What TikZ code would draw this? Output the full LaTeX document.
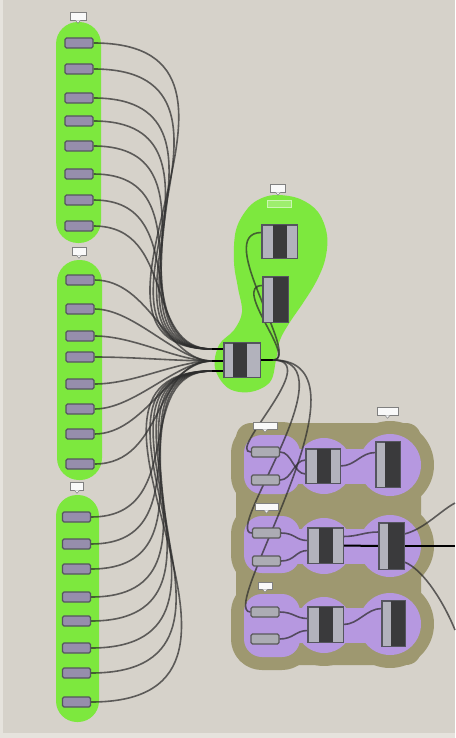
\documentclass[tikz,border=0pt]{standalone}
\usetikzlibrary{calc}
\definecolor{bg}{RGB}{214,210,202}
\definecolor{bglight}{RGB}{230,227,221}
\definecolor{grn}{RGB}{125,232,62}
\definecolor{olv}{RGB}{158,152,112}
\definecolor{prp}{RGB}{182,152,224}
\definecolor{itemfill}{RGB}{150,142,172}
\definecolor{itemdraw}{RGB}{85,85,95}
\definecolor{pfill}{RGB}{172,172,180}
\definecolor{lstrip}{RGB}{178,178,188}
\definecolor{dstrip}{RGB}{58,58,60}
\definecolor{wirec}{RGB}{45,45,45}
\pgfdeclarelayer{bgl}
\pgfdeclarelayer{wl}
\pgfsetlayers{bgl,wl,main}
\newcommand\compstrips[3]{%
  \fill[dstrip] ([xshift=#2pt]#1.north west) rectangle ([xshift=#2pt+#3pt]#1.south west);
  \draw[itemdraw,line width=0.8pt] (#1.north west) rectangle (#1.south east);
}
\newcommand\tagptr[1]{%
  \filldraw[fill=white!95!gray,draw=gray,line width=0.5pt] ([xshift=-2.5pt]#1.south) -- ([yshift=-3pt]#1.south) -- ([xshift=2.5pt]#1.south);
}
\begin{document}
\begin{tikzpicture}[x=1pt,y=-1pt,
  item/.style={rectangle,rounded corners=1.5pt,fill=itemfill,draw=itemdraw,line width=1.1pt,minimum width=28pt,minimum height=10pt,inner sep=0pt},
  pitem/.style={item,fill=pfill,draw=gray!70!black},
  compbox/.style={rectangle,fill=lstrip,draw=itemdraw,line width=0.8pt,inner sep=0pt},
  wire/.style={draw=wirec,draw opacity=0.72,line width=1.6pt},
  stub/.style={draw=black,line width=2.4pt},
  tagbox/.style={rectangle,fill=white!95!gray,draw=gray,line width=0.6pt,minimum width=16pt,minimum height=8pt,inner sep=0pt},
  olvshape/.style={fill=olv,draw=olv,line width=26pt,line join=round},
]
\useasboundingbox (0,0) rectangle (455,738);

% ---------- background and groups ----------
\begin{pgfonlayer}{bgl}
\fill[bglight] (0,0) rectangle (455,738);
\fill[bg] (3,0) rectangle (455,733);

% olive group
\fill[olv,rounded corners=15pt] (236,423) rectangle (421,665);
\foreach \ya/\yb/\cy/\cyb in {435/494/466/465, 516/573/546/546, 594/657/625/624}{
  \path[olvshape,rounded corners=18pt] (244,\ya) rectangle (300,\yb);
  \path[olvshape] (324,\cy) circle (28);
  \path[olvshape] (390,\cyb) circle (31);
  \path[olvshape] (295,\cy-17) rectangle (390,\cy+18);
}
% purple groups
\foreach \ya/\yb/\cy/\cyb in {435/494/466/465, 516/573/546/546, 594/657/625/624}{
  \fill[prp,rounded corners=18pt] (244,\ya) rectangle (300,\yb);
  \fill[prp] (324,\cy) circle (28);
  \fill[prp] (390,\cyb) circle (31);
  \fill[prp] (290,\cy-17) rectangle (390,\cy+18);
}

% green groups
\fill[grn,rounded corners=22pt] (56,22) rectangle (101,243);
\fill[grn,rounded corners=22pt] (57,260) rectangle (102,480);
\fill[grn,rounded corners=21pt] (56,495) rectangle (99,722);
\fill[grn] plot[smooth cycle,tension=0.6] coordinates {
  (278,195) (300,199) (318,212) (327,235) (325,260) (316,282) (303,303)
  (290,322) (280,340) (276,360) (270,382) (250,392) (228,388) (215,368)
  (219,345) (234,330) (242,312) (238,288) (234,262) (236,230) (248,208) (262,198)};
\end{pgfonlayer}

% ---------- column items ----------
\foreach \y [count=\i] in {43,69,98,121,146,174,200,226}
  \node[item] (a\i) at (79,\y) {};
\foreach \y [count=\i] in {280,309,336,357,384,409,434,464}
  \node[item] (b\i) at (80,\y) {};
\foreach \y [count=\i] in {517,544,569,597,621,648,673,702}
  \node[item] (c\i) at (76.5,\y) {};

% column tags
\node[tagbox] (ta) at (78,16) {};
\tagptr{ta}
\node[tagbox,minimum width=14pt] (tb) at (79,251) {};
\tagptr{tb}
\node[tagbox,minimum width=13pt] (tc3) at (77,486) {};
\tagptr{tc3}

% ---------- hub ----------
\node[compbox,minimum width=36pt,minimum height=34pt] (hub) at (242,360) {};
\compstrips{hub}{9}{14}
\coordinate (in1) at (212,349);
\coordinate (in2) at (212,361);
\coordinate (in3) at (212,371);
\coordinate (hout) at (273,360);

% ---------- upper group ----------
\node[compbox,minimum width=35pt,minimum height=33pt] (tcomp) at (279.5,241.5) {};
\compstrips{tcomp}{11}{14}
\node[compbox,minimum width=25pt,minimum height=45pt] (scomp) at (275.5,299.5) {};
\compstrips{scomp}{10}{15}
\node[tagbox,minimum width=15pt] (tu) at (278,188) {};
\tagptr{tu}
\node[rectangle,fill=grn!75!white,draw=white!60!grn,line width=0.6pt,minimum width=24pt,minimum height=7pt,inner sep=0pt] (glab) at (279,204) {};

% ---------- purple groups ----------
\node[pitem] (p1a) at (265.5,452) {};
\node[pitem] (p1b) at (265.5,480) {};
\node[compbox,minimum width=34pt,minimum height=34pt] (p1c) at (323,466) {};
\compstrips{p1c}{11}{14}
\node[compbox,minimum width=24pt,minimum height=45pt] (p1d) at (388,464.5) {};
\compstrips{p1d}{9}{15}
\node[tagbox,minimum width=24pt,minimum height=7pt] (tp1) at (265,425.5) {};
\tagptr{tp1}
\node[tagbox,minimum width=21pt] (tp1r) at (387.5,411) {};
\tagptr{tp1r}

\node[pitem] (p2a) at (266.5,533) {};
\node[pitem] (p2b) at (266.5,561) {};
\node[compbox,minimum width=35pt,minimum height=35pt] (p2c) at (325.5,545.5) {};
\compstrips{p2c}{11}{14}
\node[compbox,minimum width=25pt,minimum height=46pt] (p2d) at (391.5,546) {};
\compstrips{p2d}{9}{16}
\node[tagbox,minimum width=23pt,minimum height=7pt] (tp2) at (266.5,506.5) {};
\tagptr{tp2}

\node[pitem] (p3a) at (265,612) {};
\node[pitem] (p3b) at (265,639) {};
\node[compbox,minimum width=35pt,minimum height=35pt] (p3c) at (325.5,624.5) {};
\compstrips{p3c}{11}{14}
\node[compbox,minimum width=23pt,minimum height=45pt] (p3d) at (393.5,623.5) {};
\compstrips{p3d}{9}{14}
\node[tagbox,minimum width=14pt,minimum height=7pt] (tp3) at (265,585.5) {};
\tagptr{tp3}

\coordinate (e0) at (455,546);
\coordinate (e1) at (455,503);
\coordinate (e2) at (455,630);

% ---------- wires ----------
\begin{pgfonlayer}{wl}
\foreach \y [count=\i] in {43,69,98,121,146,174,200,226}{
  \pgfmathsetmacro\ca{max(30,0.68*abs(349-\y))}
  \pgfmathsetmacro\cb{max(25,0.56*abs(349-\y))}
  \draw[wire] (a\i.east) .. controls +(\ca,0) and +(-\cb,0) .. (in1);
}
\foreach \y [count=\i] in {280,309,336,357,384,409,434,464}{
  \pgfmathsetmacro\ca{max(40,0.68*abs(361-\y))}
  \pgfmathsetmacro\cb{max(35,0.56*abs(361-\y))}
  \draw[wire] (b\i.east) .. controls +(\ca,0) and +(-\cb,0) .. (in2);
}
\foreach \y [count=\i] in {517,544,569,597,621,648,673,702}{
  \pgfmathsetmacro\ca{max(30,0.68*abs(371-\y))}
  \pgfmathsetmacro\cb{max(25,0.56*abs(371-\y))}
  \draw[wire] (c\i.east) .. controls +(\ca,0) and +(-\cb,0) .. (in3);
}
\draw[stub] (in1) -- (in1 -| hub.west);
\draw[stub] (in2) -- (in2 -| hub.west);
\draw[stub] (in3) -- (in3 -| hub.west);
\draw[stub] (hub.east) -- (hout);

\draw[wire] (hout) .. controls +(30,0) and +(-50,0) .. ([yshift=9pt]tcomp.west);
\draw[wire] (hout) .. controls +(25,0) and +(-32,0) .. ([yshift=14pt]scomp.west);
\draw[wire] (hout) .. controls +(50,0) and +(-25,0) .. (p1a.west);
\draw[wire] (hout) .. controls +(80,0) and +(-30,0) .. (p2a.west);
\draw[wire] (hout) .. controls +(110,0) and +(-35,0) .. (p3a.west);

\draw[wire] (p1a.east) .. controls +(12,0) and +(-12,0) .. ([yshift=-8pt]p1c.west);
\draw[wire] (p1b.east) .. controls +(12,0) and +(-12,0) .. ([yshift=6pt]p1c.west);
\draw[wire] (p1c.east) .. controls +(15,0) and +(-15,0) .. ([yshift=12pt]p1d.west);

\draw[wire] (p2a.east) .. controls +(14,0) and +(-12,0) .. ([yshift=5pt]p2c.west);
\draw[wire] (p2b.east) .. controls +(14,0) and +(-12,0) .. ([yshift=-5pt]p2c.west);
\draw[wire] ([yshift=9pt]p2c.east) .. controls +(15,0) and +(-15,0) .. ([yshift=14pt]p2d.west);
\draw[stub,line width=2pt] (p2c.east) -- (p2d.west);
\draw[stub,line width=2pt] (p2d.east) -- (e0);
\draw[wire] ([yshift=12pt]p2d.east) .. controls +(20,-5) and +(-15,8) .. (e1);
\draw[wire] ([yshift=-16pt]p2d.east) .. controls +(20,8) and +(-10,-25) .. (e2);

\draw[wire] (p3a.east) .. controls +(14,0) and +(-12,0) .. ([yshift=6pt]p3c.west);
\draw[wire] (p3b.east) .. controls +(14,0) and +(-12,0) .. ([yshift=-6pt]p3c.west);
\draw[wire] (p3c.east) .. controls +(15,0) and +(-15,0) .. ([yshift=15pt]p3d.west);
\end{pgfonlayer}
\end{tikzpicture}
\end{document}
